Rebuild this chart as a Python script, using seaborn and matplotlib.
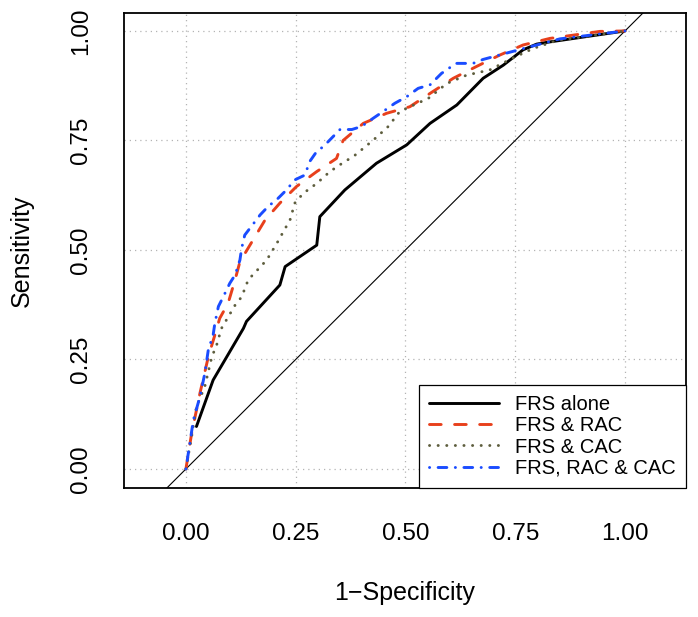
import numpy as np
import pandas as pd
import matplotlib
matplotlib.use("Agg")
import matplotlib.pyplot as plt
import seaborn as sns

# ---- data ----
frs_x = [0.024, 0.062, 0.131, 0.138, 0.214, 0.226, 0.298, 0.305, 0.362, 0.434,
         0.503, 0.556, 0.617, 0.677, 0.723, 0.768, 0.799, 0.822, 1.0]
frs_y = [0.097, 0.203, 0.321, 0.337, 0.420, 0.462, 0.511, 0.576, 0.637, 0.698,
         0.740, 0.789, 0.831, 0.892, 0.922, 0.957, 0.970, 0.974, 1.0]

rac_x = [0.0, 0.013, 0.032, 0.051, 0.066, 0.077, 0.096, 0.112, 0.123, 0.153, 0.180, 0.214,
         0.252, 0.298, 0.343, 0.358, 0.404, 0.457, 0.510, 0.563, 0.609, 0.662, 0.715, 0.768,
         0.829, 0.943, 1.0]
rac_y = [0.0, 0.081, 0.173, 0.256, 0.306, 0.344, 0.378, 0.432, 0.473, 0.523, 0.568, 0.607,
         0.645, 0.679, 0.709, 0.750, 0.789, 0.812, 0.827, 0.862, 0.892, 0.919, 0.945, 0.968,
         0.983, 0.999, 1.0]

cac_x = [0.0, 0.013, 0.024, 0.043, 0.059, 0.070, 0.081, 0.112, 0.127, 0.142, 0.184, 0.207,
         0.226, 0.237, 0.248, 0.267, 0.298, 0.328, 0.362, 0.381, 0.427, 0.461, 0.487, 0.510,
         0.552, 0.594, 0.639, 0.692, 0.742, 0.791, 0.844, 1.0]
cac_y = [0.0, 0.074, 0.142, 0.188, 0.256, 0.283, 0.321, 0.374, 0.393, 0.432, 0.477, 0.515,
         0.549, 0.568, 0.607, 0.629, 0.652, 0.679, 0.702, 0.713, 0.751, 0.782, 0.816, 0.827,
         0.846, 0.880, 0.899, 0.911, 0.937, 0.960, 0.978, 1.0]

all_x = [0.0, 0.009, 0.017, 0.032, 0.043, 0.051, 0.062, 0.066, 0.074, 0.085, 0.100, 0.112,
         0.123, 0.127, 0.134, 0.169, 0.187, 0.210, 0.229, 0.248, 0.271, 0.282, 0.298, 0.313,
         0.351, 0.378, 0.400, 0.427, 0.449, 0.476, 0.503, 0.529, 0.556, 0.582, 0.615, 0.654,
         0.677, 0.784, 0.852, 1.0]
all_y = [0.0, 0.059, 0.112, 0.165, 0.218, 0.272, 0.306, 0.333, 0.371, 0.393, 0.424, 0.443,
         0.477, 0.504, 0.534, 0.580, 0.599, 0.618, 0.637, 0.660, 0.671, 0.702, 0.725, 0.736,
         0.775, 0.775, 0.782, 0.801, 0.816, 0.835, 0.850, 0.869, 0.877, 0.903, 0.926, 0.926,
         0.935, 0.964, 0.982, 1.0]

labels = ["FRS alone", "FRS & RAC", "FRS & CAC", "FRS, RAC & CAC"]
ticks = [0.0, 0.25, 0.5, 0.75, 1.0]
tick_labels = ["0.00", "0.25", "0.50", "0.75", "1.00"]

# ---- styling ----
sns.set_style("white")
plt.rcParams["font.family"] = ["Liberation Sans", "DejaVu Sans"]
plt.rcParams["text.color"] = "black"
plt.rcParams["axes.labelcolor"] = "black"
plt.rcParams["xtick.color"] = "black"
plt.rcParams["ytick.color"] = "black"

colors = ["#000000", "#E8401C", "#5E5E3E", "#1A4CFF"]
dashes = [None, (4.0, 4.6), (0.05, 2.9), (0.05, 2.9, 3.0, 2.9)]
series = [(frs_x, frs_y), (rac_x, rac_y), (cac_x, cac_y), (all_x, all_y)]

fig = plt.figure(figsize=(6.98, 6.17), dpi=100)
ax = fig.add_axes([124 / 698, 1 - 488 / 617, 562 / 698, 475 / 617])

ax.set_xlim(-0.141, 1.139)
ax.set_ylim(-0.0434, 1.041)

# grid
for t in ticks:
    ax.axvline(t, color="#b4b4b4", lw=0.9, ls=(0, (1, 3.2)), zorder=0)
    ax.axhline(t, color="#b4b4b4", lw=0.9, ls=(0, (1, 3.2)), zorder=0)

# diagonal reference line
ax.axline((0, 0), (1, 1), color="black", lw=0.8, zorder=1)

for (xs, ys), lab, c, d in zip(series, labels, colors, dashes):
    df = pd.DataFrame({"x": xs, "y": ys})
    sns.lineplot(data=df, x="x", y="y", ax=ax, color=c, sort=False,
                 estimator=None, label=lab, lw=2.1)
    ln = ax.lines[-1]
    ln.set_solid_capstyle("round")
    ln.set_solid_joinstyle("round")
    if d is not None:
        ln.set_dashes(d)
        ln.set_dash_capstyle("round")

ax.set_xticks(ticks)
ax.set_xticklabels(tick_labels)
ax.set_yticks(ticks)
ax.set_yticklabels(tick_labels, rotation=90, va="center")
ax.tick_params(axis="both", direction="out", length=11, width=0.9,
               labelsize=17.5, pad=12, color="black", labelcolor="black")
ax.tick_params(axis="x", pad=14)

for s in ax.spines.values():
    s.set_color("black")
    s.set_linewidth(1.3)

ax.set_xlabel("1\u2212Specificity", fontsize=18, labelpad=26, color="black")
ax.set_ylabel("Sensitivity", fontsize=18, labelpad=26, color="black")

leg = ax.legend(loc="lower right", bbox_to_anchor=(1.0, 0.0), borderaxespad=0.0,
                fontsize=14.5, frameon=True, fancybox=False, edgecolor="black",
                handlelength=3.5, handletextpad=0.8, labelspacing=0.12,
                borderpad=0.5, framealpha=1.0)
leg.get_frame().set_linewidth(0.9)
for t in leg.get_texts():
    t.set_color("black")

fig.savefig("out.png", dpi=100)
